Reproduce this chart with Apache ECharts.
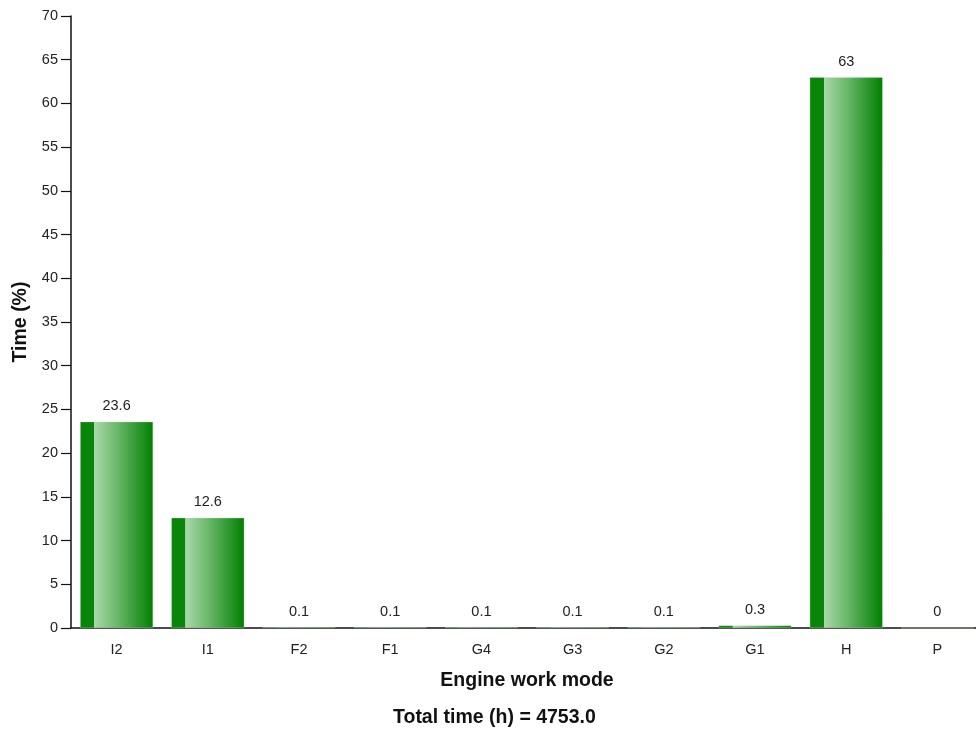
<!DOCTYPE html>
<html>
<head>
<meta charset="utf-8">
<script src="https://cdn.jsdelivr.net/npm/echarts@6/dist/echarts.min.js"></script>
<style>
html,body{margin:0;padding:0;background:#fff;overflow:hidden;}
#chart{width:984px;height:733px;}
</style>
</head>
<body>
<div id="chart"></div>
<script>
const categories = ['I2','I1','F2','F1','G4','G3','G2','G1','H','P'];
const values = [23.6, 12.6, 0.1, 0.1, 0.1, 0.1, 0.1, 0.3, 63, 0];
const yTicks = {min: 0, max: 70, interval: 5};
const xTitle = 'Engine work mode';
const yTitle = 'Time (%)';
const footer = 'Total time (h) = 4753.0';

const font = '"Liberation Sans", Arial, sans-serif';
const chart = echarts.init(document.getElementById('chart'), null, {renderer: 'canvas'});
const barColor = new echarts.graphic.LinearGradient(0, 0, 1, 0, [
  {offset: 0, color: '#098509'},
  {offset: 0.19, color: '#098509'},
  {offset: 0.195, color: '#a9d8a9'},
  {offset: 0.5, color: '#6cb86c'},
  {offset: 1, color: '#018001'}
]);
chart.setOption({
  animation: false,
  textStyle: {fontFamily: font},
  title: {
    text: footer,
    left: 393, top: 708,
    padding: [0, 0, 0, 0],
    textStyle: {fontFamily: font, fontSize: 19.5, fontWeight: 'bold', color: '#111'}
  },
  grid: {left: 71, top: 16, right: 1, bottom: 105, containLabel: false},
  xAxis: {
    type: 'category',
    data: categories,
    name: xTitle,
    nameLocation: 'middle',
    nameGap: 43,
    nameTextStyle: {fontFamily: font, fontSize: 19.5, fontWeight: 'bold', color: '#111'},
    axisLine: {lineStyle: {color: '#111', width: 1.5}},
    axisTick: {length: 10, lineStyle: {color: '#111', width: 1.2}},
    axisLabel: {fontFamily: font, fontSize: 14.5, color: '#222', margin: 14},
    splitLine: {show: false}
  },
  yAxis: {
    type: 'value',
    min: yTicks.min, max: yTicks.max, interval: yTicks.interval,
    name: yTitle,
    nameLocation: 'middle',
    nameGap: 40,
    nameTextStyle: {fontFamily: font, fontSize: 19.5, fontWeight: 'bold', color: '#111'},
    axisLine: {show: true, lineStyle: {color: '#111', width: 1.5}},
    axisTick: {show: true, length: 10, lineStyle: {color: '#111', width: 1.2}},
    axisLabel: {fontFamily: font, fontSize: 14.5, color: '#222', margin: 13},
    splitLine: {show: false}
  },
  series: [{
    type: 'bar',
    data: values,
    barCategoryGap: '20%',
    itemStyle: {color: barColor, borderColor: 'rgba(200,235,200,0.6)', borderWidth: 0.5},
    label: {
      show: true, position: 'top', distance: 8,
      fontFamily: font, fontSize: 14.5, color: '#222',
      formatter: p => String(p.value)
    }
  }]
});
</script>
</body>
</html>
